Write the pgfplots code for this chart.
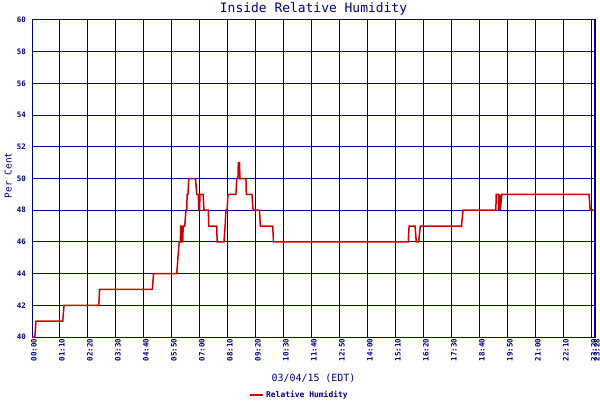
\documentclass[border=0pt]{standalone}
\usepackage{fontspec}
\setmainfont{DejaVu Sans Mono}
\usepackage{pgfplots}
\pgfplotsset{compat=1.18}
\definecolor{navy}{HTML}{000080}
\definecolor{rhred}{HTML}{CC0000}
\begin{document}
\begin{tikzpicture}[x=1bp,y=1bp]
\useasboundingbox (0,0) rectangle (600,400);
\begin{axis}[
  at={(32bp,63bp)}, anchor=south west,
  scale only axis, width=563bp, height=317bp,
  xmin=0, xmax=1408, ymin=40, ymax=60,
  xtick={0,70,140,210,280,350,420,490,560,630,700,770,840,910,980,1050,1120,1190,1260,1330,1400,1408},
  xticklabels={00:00,01:10,02:20,03:30,04:40,05:50,07:00,08:10,09:20,10:30,11:40,12:50,14:00,15:10,16:20,17:30,18:40,19:50,21:00,22:10,23:20,23:28},
  ytick={40,42,...,60},
  /pgf/number format/assume math mode=true,
  major tick length=0pt,
  grid=major,
  major grid style={navy, line width=1bp},
  axis line style={navy, line width=1bp},
  x tick label style={rotate=90, anchor=east, inner sep=1.5bp, yshift=-2bp,
    font=\bfseries\fontsize{7.5}{7.5}\selectfont, text=navy},
  y tick label style={anchor=east, inner sep=2bp, xshift=-4bp,
    font=\bfseries\fontsize{7.5}{7.5}\selectfont, text=navy},
  every axis title shift=0pt,
  title={Inside Relative Humidity},
  title style={at={(axis description cs:0.5,1.035)}, anchor=center,
    font=\fontsize{13}{13}\selectfont, text=navy},
  xlabel={03/04/15 (EDT)},
  x label style={at={(axis description cs:0.5,-0.129)}, anchor=center,
    font=\fontsize{10}{10}\selectfont, text=navy},
  ylabel={Per Cent},
  y label style={at={(axis description cs:-0.0424,0.51)}, anchor=center,
    font=\fontsize{9.5}{9.5}\selectfont, text=navy},
  legend style={at={(axis description cs:0.475,-0.183)}, anchor=center,
    draw=none, fill=none, inner sep=0pt,
    font=\bfseries\fontsize{8}{8}\selectfont, text=navy},
  legend image code/.code={\draw[#1, line width=2bp] (0bp,0bp) -- (13bp,0bp);},
]
\addplot[rhred, line width=1.5bp] coordinates {
  (0,40) (7,40) (10,41) (77,41) (80,42) (167,42) (169,43) (301,43) (304,44)
  (362,44) (365,45) (368,46) (371,46) (372,47) (374,47) (375,46) (377,46)
  (378,47) (382,47) (385,48) (387,48) (388,49) (390,49) (392,50) (409,50)
  (412,49) (416,49) (417,48) (419,48) (420,49) (428,49) (430,48) (441,48)
  (442,47) (462,47) (463,46) (480,46) (483,47) (485,48) (488,48) (490,49)
  (510,49) (512,50) (515,50) (516,51) (519,51) (520,50) (535,50) (536,49)
  (550,49) (553,48) (569,48) (571,47) (602,47) (604,46) (941,46) (943,47)
  (958,47) (961,46) (967,46) (971,47) (1074,47) (1078,48) (1160,48)
  (1161,49) (1166,49) (1167,48) (1170,49) (1171,48) (1175,49) (1393,49)
  (1396,48) (1408,48)
};
\addlegendentry{Relative Humidity}
\draw[navy, line width=2bp] (rel axis cs:0,0) -- (rel axis cs:0,1);
\draw[navy, line width=2bp] (rel axis cs:1,0) -- (rel axis cs:1,1);
\end{axis}
\end{tikzpicture}
\end{document}
